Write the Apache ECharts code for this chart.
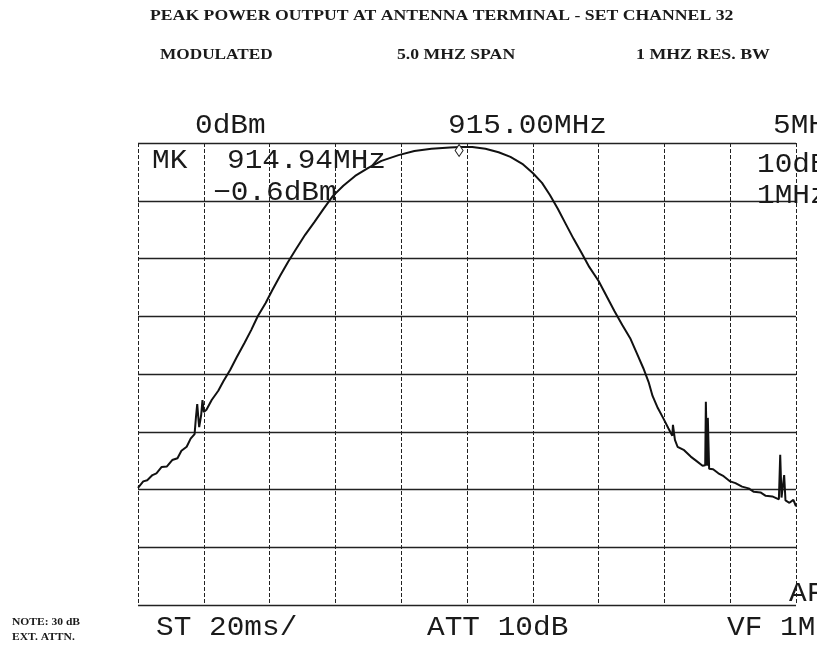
<!DOCTYPE html>
<html>
  <head>
    <meta charset="utf-8" />
    <script src="https://cdn.jsdelivr.net/npm/echarts@6/dist/echarts.min.js"></script>
  </head>
  <body style="margin:0; background:#fff;">
    <div id="chart" style="width: 817px; height: 656px;"></div>
    <script>
        // Trace: frequency (MHz) and level (dBm)
        var freq = [
          912.50, 912.54, 912.57, 912.61, 912.64, 912.68, 912.72, 912.76, 912.80, 912.83,
          912.87, 912.90, 912.93, 912.94, 912.95, 912.96, 912.965, 912.98, 912.99, 913.00,
          913.02, 913.06, 913.11, 913.15, 913.20, 913.25, 913.31, 913.36, 913.41, 913.47,
          913.52, 913.58, 913.64, 913.70, 913.77, 913.84, 913.91, 913.98, 914.06, 914.15,
          914.25, 914.35, 914.48, 914.60, 914.73, 914.87, 914.95, 915.04, 915.14, 915.24,
          915.33, 915.42, 915.50, 915.57, 915.63, 915.69, 915.75, 915.81, 915.87, 915.93,
          916.00, 916.06, 916.12, 916.18, 916.24, 916.29, 916.34, 916.38, 916.41, 916.45,
          916.49, 916.53, 916.56, 916.565, 916.58, 916.60, 916.65, 916.70, 916.74, 916.79,
          916.81, 916.815, 916.825, 916.83, 916.84, 916.87, 916.91, 916.95, 917.00, 917.04,
          917.09, 917.14, 917.18, 917.23, 917.27, 917.32, 917.37, 917.38, 917.39, 917.41,
          917.42, 917.45, 917.48, 917.50
        ];
        var level = [
          -59.7, -58.6, -58.4, -57.5, -57.2, -56.1, -56.0, -54.9, -54.6, -53.3,
          -52.6, -51.2, -50.4, -47.6, -45.2, -48.0, -49.2, -47.1, -44.5, -46.6,
          -46.2, -44.5, -42.9, -41.2, -39.3, -37.1, -34.6, -32.4, -30.0, -27.7,
          -25.5, -23.0, -20.6, -18.4, -15.9, -13.7, -11.4, -9.2, -7.4, -5.7,
          -4.3, -3.1, -2.1, -1.4, -1.0, -0.8, -0.7, -0.7, -1.0, -1.6,
          -2.4, -3.6, -5.2, -6.9, -9.0, -11.4, -14.0, -16.6, -19.0, -21.5,
          -23.9, -26.5, -29.1, -31.5, -33.8, -36.4, -39.0, -41.4, -43.8, -45.9,
          -47.6, -49.4, -50.7, -48.8, -51.4, -52.6, -53.2, -54.3, -55.0, -55.9,
          -55.8, -44.8, -55.9, -47.6, -56.4, -56.5, -57.2, -57.7, -58.6, -58.9,
          -59.5, -59.8, -60.4, -60.5, -61.1, -61.2, -61.7, -54.0, -61.4, -57.5,
          -61.9, -62.3, -61.8, -62.9
        ];

        // Marker reading
        var markerFreq = 914.94;
        var markerLevel = -0.6;

        // Axis range: 5 MHz span around 915 MHz, 10 dB per division
        var freqMin = 912.5, freqMax = 917.5, freqStep = 0.5;
        var levelMin = -80, levelMax = 0, levelStep = 10;

        var chart = echarts.init(document.getElementById('chart'));

        var monoFont = '27px "Liberation Mono", "DejaVu Sans Mono", monospace';
        var serifFont = 'bold 15px "Liberation Serif", "DejaVu Serif", serif';

        function label(x, y, text, font, sx) {
            return {
                type: 'text', x: x, y: y, scaleX: sx || 1, z: 10,
                style: { text: text, font: font, fill: '#1a1a1a', align: 'left', verticalAlign: 'middle' }
            };
        }

        var option = {
            backgroundColor: '#fff',
            animation: false,
            grid: { left: 138, top: 143, width: 658, height: 462 },
            xAxis: {
                type: 'value', min: freqMin, max: freqMax, interval: freqStep,
                axisLabel: { show: false }, axisTick: { show: false }, axisLine: { show: false },
                splitLine: { show: true, lineStyle: { color: '#222', width: 1, type: [4, 2] } }
            },
            yAxis: {
                type: 'value', min: levelMin, max: levelMax, interval: levelStep,
                axisLabel: { show: false }, axisTick: { show: false }, axisLine: { show: false },
                splitLine: { show: true, lineStyle: { color: '#222', width: 1.3 } }
            },
            series: [{
                type: 'line',
                data: freq.map(function (f, i) { return [f, level[i]]; }),
                showSymbol: false,
                lineStyle: { color: '#111', width: 2 },
                markPoint: {
                    symbol: 'diamond', symbolSize: [8, 12], symbolOffset: [0, 4],
                    itemStyle: { color: '#fff', borderColor: '#222', borderWidth: 1 },
                    label: { show: false },
                    data: [{ coord: [markerFreq, markerLevel] }]
                }
            }],
            graphic: [
                label(150, 16, 'PEAK POWER OUTPUT AT ANTENNA TERMINAL - SET CHANNEL 32', serifFont, 1.18),
                label(160, 55, 'MODULATED', serifFont, 1.15),
                label(397, 55, '5.0 MHZ SPAN', serifFont, 1.18),
                label(636, 55, '1 MHZ RES. BW', serifFont, 1.19),
                label(12, 622, 'NOTE: 30 dB', 'bold 11px "Liberation Serif", serif', 1.05),
                label(12, 637, 'EXT. ATTN.', 'bold 11px "Liberation Serif", serif', 1.05),
                label(195, 126, '0dBm', monoFont, 1.09),
                label(448, 126, '915.00MHz', monoFont, 1.09),
                label(773, 126, '5MHz', monoFont, 1.09),
                label(152, 161, 'MK', monoFont, 1.09),
                label(227, 161, '914.94MHz', monoFont, 1.09),
                label(213, 193, '\u22120.6dBm', monoFont, 1.09),
                label(757, 165, '10dB', monoFont, 1.09),
                label(757, 196, '1MHz', monoFont, 1.09),
                label(156, 628, 'ST 20ms/', monoFont, 1.09),
                label(427, 628, 'ATT 10dB', monoFont, 1.09),
                label(727, 628, 'VF 1MHz', monoFont, 1.09),
                label(789, 594, 'AF', monoFont, 1.09)
            ]
        };

        chart.setOption(option);
    </script>
  </body>
</html>
